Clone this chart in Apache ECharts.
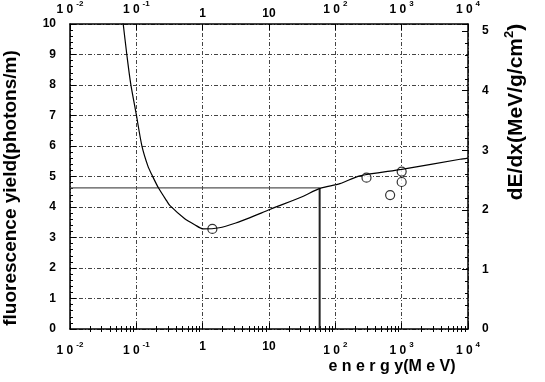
<!DOCTYPE html>
<html><head><meta charset="utf-8">
<script src="https://cdn.jsdelivr.net/npm/echarts@6/dist/echarts.min.js"></script>
<style>html,body{margin:0;padding:0;background:#fff}#c{width:545px;height:382px}</style>
</head><body><div id="c"></div>
<script>
// Energy loss curve dE/dx (MeV/g/cm^2) vs energy (MeV)
const curveEnergy = [0.060, 0.0637, 0.0716, 0.0822, 0.0995, 0.121, 0.150, 0.173, 0.215, 0.287, 0.322, 0.537, 0.76, 1.02, 1.78, 3.16, 5.19, 10.5, 31.6, 58.5, 117, 234, 1000, 7590, 10000];
const curveDedx   = [5.30, 5.10, 4.62, 4.12, 3.61, 3.08, 2.73, 2.58, 2.37, 2.15, 2.07, 1.85, 1.75, 1.68, 1.70, 1.78, 1.87, 2.01, 2.22, 2.36, 2.44, 2.57, 2.68, 2.85, 2.87];
// Measured fluorescence yield (photons/m)
const yieldEnergy = [1.4, 295, 670, 1000, 1000];
const yieldValue  = [3.28, 4.96, 4.39, 5.16, 4.82];
// Guide lines
const guideEnergy = 58;
const guideYield = 4.63;
const decadeTicks = [0.01, 0.1, 1, 10, 100, 1000, 10000];
const decadeLabels = {0.01: '-2', 0.1: '-1', 1: '1', 10: '10', 100: '2', 1000: '3', 10000: '4'};
const minorTicks = [];
[0.01, 0.1, 1, 10, 100, 1000].forEach(d => { for (let k = 2; k <= 9; k++) minorTicks.push(+(d * k).toPrecision(3)); });

const FONT = 'Liberation Sans';
const gridLine = {show: true, lineStyle: {color: '#444', width: 1, type: [4, 2, 1, 2]}};
function xLabelFmt(v) {
  const key = decadeLabels[v];
  if (key === undefined) return '';
  if (key === '1' || key === '10') return '{b|' + key + '}';
  return '{b|1 0}{s|' + key + '}';
}
const rich = {
  b: {fontFamily: FONT, fontWeight: 'bold', fontSize: 12, color: '#000'},
  s: {fontFamily: FONT, fontWeight: 'bold', fontSize: 8, color: '#000', padding: [0, 0, 12, 3]}
};
function xMain(pos, showSplit) {
  return {
    type: 'log', logBase: 10, min: 0.01, max: 10000, position: pos, gridIndex: 0,
    axisLine: {show: true, onZero: false, lineStyle: {color: '#000', width: 1.5}},
    axisTick: {show: true, inside: true, length: 6, customValues: decadeTicks, lineStyle: {color: '#000'}},
    axisLabel: {show: true, customValues: decadeTicks, formatter: xLabelFmt, rich: rich, margin: pos === 'bottom' ? 12 : 4},
    splitLine: showSplit ? gridLine : {show: false},
    minorTick: {show: false}
  };
}
function xMinor(pos) {
  return {
    type: 'log', logBase: 10, min: 0.01, max: 10000, position: pos, gridIndex: 0,
    axisLine: {show: false},
    axisTick: {show: true, inside: true, length: 3, customValues: minorTicks, lineStyle: {color: '#000'}},
    axisLabel: {show: false},
    splitLine: {show: false}
  };
}
const chart = echarts.init(document.getElementById('c'), null, {renderer: 'canvas'});
chart.setOption({
  animation: false,
  backgroundColor: '#fff',
  grid: {left: 70, right: 77, top: 22, bottom: 53},
  xAxis: [xMain('bottom', true), xMain('top', false), xMinor('bottom'), xMinor('top')],
  yAxis: [
    {type: 'value', min: 0, max: 10, interval: 1, position: 'left',
     axisLine: {show: true, lineStyle: {color: '#000', width: 1.5}},
     axisTick: {show: true, inside: true, length: 6, lineStyle: {color: '#000'}},
     minorTick: {show: true, splitNumber: 5, length: 3, lineStyle: {color: '#000'}},
     axisLabel: {fontFamily: FONT, fontWeight: 'bold', fontSize: 12, color: '#000', margin: 14},
     splitLine: gridLine},
    {type: 'value', min: 0, max: 5.12, interval: 1, position: 'right',
     axisLine: {show: true, lineStyle: {color: '#000', width: 1.5}},
     axisTick: {show: true, inside: true, length: 6, lineStyle: {color: '#000'}},
     minorTick: {show: true, splitNumber: 5, length: 3, lineStyle: {color: '#000'}},
     axisLabel: {fontFamily: FONT, fontWeight: 'bold', fontSize: 12, color: '#000', margin: 14,
       formatter: v => (Math.abs(v - Math.round(v)) < 1e-6 ? String(Math.round(v)) : '')},
     splitLine: {show: false}}
  ],
  graphic: [
    {type: 'text', x: 11, y: 188, rotation: Math.PI / 2,
     style: {text: 'fluorescence yield(photons/m)', fontFamily: FONT, fontWeight: 'bold', fontSize: 19, fill: '#000',
       align: 'center', verticalAlign: 'middle'}},
    {type: 'text', x: 516, y: 112, rotation: Math.PI / 2,
     style: {text: 'dE/dx(MeV/g/cm{sup|2})', fontFamily: FONT, fontWeight: 'bold', fontSize: 21, fill: '#000',
       align: 'center', verticalAlign: 'middle',
       rich: {sup: {fontFamily: FONT, fontWeight: 'bold', fontSize: 13, fill: '#000', padding: [0, 0, 14, 0]}}}},
    {type: 'text', x: 392, y: 367,
     style: {text: 'e n e r g y(M e V)', fontFamily: FONT, fontWeight: 'bold', fontSize: 16, fill: '#000',
       align: 'center', verticalAlign: 'middle'}}
  ],
  series: [
    {type: 'line', xAxisIndex: 0, yAxisIndex: 0, showSymbol: false, silent: true,
     data: [[0.01, guideYield], [guideEnergy, guideYield]],
     lineStyle: {color: '#555', width: 1.2}},
    {type: 'line', xAxisIndex: 0, yAxisIndex: 0, showSymbol: false, silent: true,
     data: [[guideEnergy, guideYield], [guideEnergy, 0]],
     lineStyle: {color: '#222', width: 2}},
    {type: 'line', xAxisIndex: 0, yAxisIndex: 1, showSymbol: false, smooth: 0.25, clip: true,
     data: curveEnergy.map((e, i) => [e, curveDedx[i]]),
     lineStyle: {color: '#000', width: 1.2}},
    {type: 'scatter', xAxisIndex: 0, yAxisIndex: 0, symbol: 'circle', symbolSize: 9,
     data: yieldEnergy.map((e, i) => [e, yieldValue[i]]),
     itemStyle: {color: '#fff', borderColor: '#000', borderWidth: 1.2}}
  ]
});
</script></body></html>
